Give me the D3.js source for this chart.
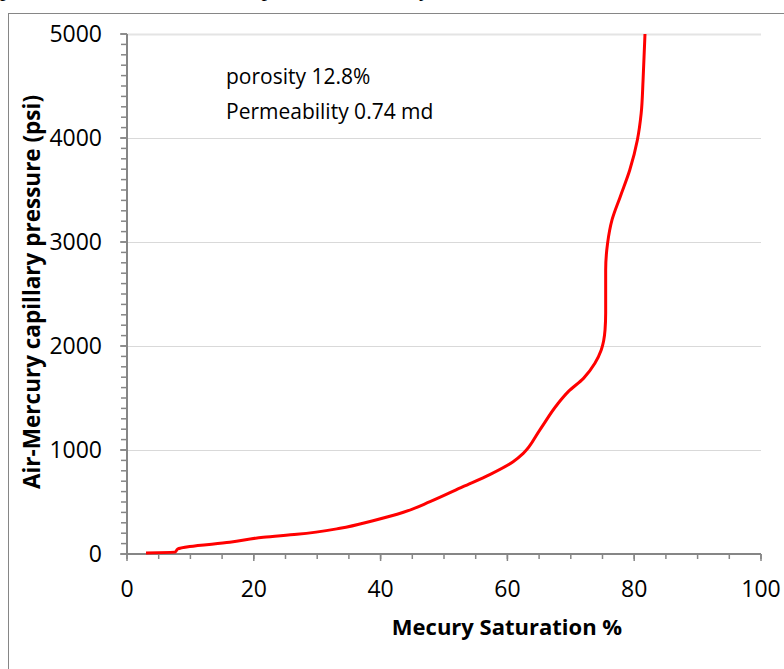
<!DOCTYPE html>
<html>
<head>
<meta charset="utf-8">
<script src="https://cdn.jsdelivr.net/npm/d3@7"></script>
<style>
  html, body { margin: 0; padding: 0; background: #fff; }
  svg { display: block; }
</style>
</head>
<body>
<script>
// Mercury injection capillary pressure curve
const saturation = [3.0, 7.6, 8.0, 9.9, 16.2, 21.5, 26.8, 33.6, 38.8, 43.6, 47.8, 53.0, 57.3, 60.9, 62.5, 65.1, 67.8, 69.6, 72.0, 73.8, 74.8, 75.4, 75.5, 75.5, 75.8, 76.5, 77.8, 79.3, 80.5, 81.1, 81.4, 81.7];
const pressure   = [10, 19, 48, 72, 112, 161, 189, 247, 320, 401, 503, 647, 766, 887, 968, 1192, 1433, 1561, 1689, 1834, 1962, 2154, 2317, 2731, 2987, 3212, 3436, 3692, 3981, 4237, 4558, 5000];

const xTicks = [0, 20, 40, 60, 80, 100];
const yTicks = [0, 1000, 2000, 3000, 4000, 5000];
const xMinor = d3.range(0, 101, 5);
const yMinor = d3.range(0, 5001, 100);

const notes = ["porosity 12.8%", "Permeability 0.74 md"];
const xTitle = "Mecury Saturation %";
const yTitle = "Air-Mercury capillary pressure (psi)";
const caption = "pressure curve and it starts at point with mercury saturation of about 3 % and rises";

const W = 784, H = 669;
const svg = d3.select("body").append("svg").attr("width", W).attr("height", H);

const font = "'Open Sans', 'Noto Sans', sans-serif";
const axisColor = "#868686";

// caption line running above the chart frame
svg.append("text")
  .attr("x", 0).attr("y", -4)
  .attr("font-family", "'Liberation Serif', serif")
  .attr("font-size", 22)
  .attr("fill", "#000")
  .text(caption);

// chart frame
svg.append("rect")
  .attr("x", 8.5).attr("y", 13.5)
  .attr("width", 800).attr("height", 700)
  .attr("fill", "#fff")
  .attr("stroke", axisColor).attr("stroke-width", 1);

const x = d3.scaleLinear().domain([0, 100]).range([127, 761]);
const y = d3.scaleLinear().domain([0, 5000]).range([554, 34]);

// horizontal gridlines
svg.append("g").selectAll("line")
  .data(yTicks.filter(d => d > 0))
  .join("line")
  .attr("x1", x(0)).attr("x2", x(100))
  .attr("y1", d => Math.round(y(d)) + 0.5).attr("y2", d => Math.round(y(d)) + 0.5)
  .attr("stroke", d => d === 5000 ? "#e4e4e4" : "#d9d9d9")
  .attr("stroke-width", d => d === 5000 ? 2 : 1);

// y axis: minor ticks, major ticks, line, labels
const yAxisG = svg.append("g");
yAxisG.selectAll("line.minor")
  .data(yMinor)
  .join("line")
  .attr("class", "minor")
  .attr("x1", x(0) - 6).attr("x2", x(0))
  .attr("y1", d => y(d)).attr("y2", d => y(d))
  .attr("stroke", axisColor).attr("stroke-width", 1.5);
yAxisG.selectAll("line.major")
  .data(yTicks)
  .join("line")
  .attr("class", "major")
  .attr("x1", x(0) - 7).attr("x2", x(0))
  .attr("y1", d => y(d)).attr("y2", d => y(d))
  .attr("stroke", axisColor).attr("stroke-width", 1.5);
yAxisG.append("line")
  .attr("x1", x(0)).attr("x2", x(0))
  .attr("y1", y(0)).attr("y2", y(5000))
  .attr("stroke", axisColor).attr("stroke-width", 2);
yAxisG.selectAll("text")
  .data(yTicks)
  .join("text")
  .attr("x", x(0) - 25)
  .attr("y", d => y(d))
  .attr("dy", "0.35em")
  .attr("text-anchor", "end")
  .attr("font-family", font).attr("font-size", 23)
  .attr("fill", "#000")
  .text(d => d);

// x axis
const xAxisG = svg.append("g");
xAxisG.selectAll("line.minor")
  .data(xMinor)
  .join("line")
  .attr("class", "minor")
  .attr("x1", d => x(d)).attr("x2", d => x(d))
  .attr("y1", y(0)).attr("y2", y(0) + 5)
  .attr("stroke", axisColor).attr("stroke-width", 1.5);
xAxisG.selectAll("line.major")
  .data(xTicks)
  .join("line")
  .attr("class", "major")
  .attr("x1", d => x(d)).attr("x2", d => x(d))
  .attr("y1", y(0)).attr("y2", y(0) + 7)
  .attr("stroke", axisColor).attr("stroke-width", 1.5);
xAxisG.append("line")
  .attr("x1", x(0)).attr("x2", x(100))
  .attr("y1", y(0)).attr("y2", y(0))
  .attr("stroke", axisColor).attr("stroke-width", 2);
xAxisG.selectAll("text")
  .data(xTicks)
  .join("text")
  .attr("x", d => x(d))
  .attr("y", 597)
  .attr("text-anchor", "middle")
  .attr("font-family", font).attr("font-size", 23)
  .attr("fill", "#000")
  .text(d => d);

// axis titles
svg.append("text")
  .attr("x", 507).attr("y", 635)
  .attr("text-anchor", "middle")
  .attr("font-family", font).attr("font-size", 22).attr("font-weight", "bold")
  .attr("fill", "#000")
  .text(xTitle);
svg.append("text")
  .attr("transform", "translate(40,292) rotate(-90)")
  .attr("text-anchor", "middle")
  .attr("font-family", font).attr("font-size", 22.5).attr("font-weight", "bold")
  .attr("fill", "#000")
  .text(yTitle);

// sample properties note
svg.append("g").selectAll("text")
  .data(notes)
  .join("text")
  .attr("x", 226)
  .attr("y", (d, i) => 84 + i * 35)
  .attr("font-family", font).attr("font-size", 21)
  .attr("fill", "#000")
  .text(d => d);

// capillary pressure curve
const pts = saturation.map((s, i) => [s, pressure[i]]);
const line = d3.line()
  .x(d => x(d[0]))
  .y(d => y(d[1]))
  .curve(d3.curveMonotoneY);
svg.append("path")
  .datum(pts)
  .attr("d", line)
  .attr("fill", "none")
  .attr("stroke", "#ff0000")
  .attr("stroke-width", 3)
  .attr("stroke-linejoin", "round");
</script>
</body>
</html>
